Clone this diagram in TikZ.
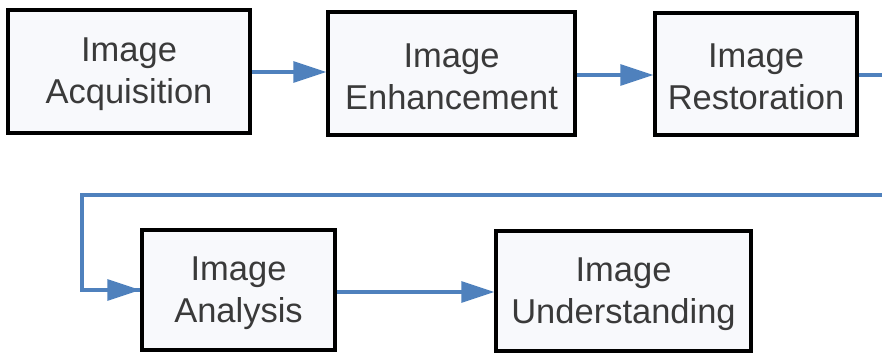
\documentclass[tikz,border=0pt]{standalone}
\usepackage{fontspec}
\setmainfont{Liberation Sans}
\usetikzlibrary{arrows.meta}
\definecolor{flowblue}{HTML}{4F81BD}
\definecolor{boxfill}{HTML}{F8F9FC}
\definecolor{txt}{HTML}{3A3A3A}
\newcommand\lowline[1]{\raisebox{-3pt}[\height][\depth]{#1}}
\tikzset{
  procbox/.style={draw=black, line width=3.5pt, fill=boxfill, inner sep=0pt,
    text=txt, align=center, font=\fontsize{34.5}{42}\selectfont},
  flow/.style={draw=flowblue, line width=3.2pt, -{Triangle[length=33pt,width=21pt]}},
}
\begin{document}
\begin{tikzpicture}[x=1pt,y=-1pt]
\useasboundingbox (0,0) rectangle (882,353);
\clip (0,0) rectangle (882,353);
\node[procbox, minimum width=242pt, minimum height=123pt] (acq) at (129,71.5) {\lowline{Image}\\\lowline{Acquisition}};
\node[procbox, minimum width=247pt, minimum height=123pt] (enh) at (451.5,73.5) {\lowline{Image}\\\lowline{Enhancement}};
\node[procbox, minimum width=202pt, minimum height=122pt] (res) at (756,74) {\lowline{Image}\\\lowline{Restoration}};
\node[procbox, minimum width=193pt, minimum height=120pt] (ana) at (238.5,290) {\lowline{Image}\\\lowline{Analysis}};
\node[procbox, minimum width=255pt, minimum height=120pt] (und) at (623.5,291) {\lowline{Image}\\\lowline{Understanding}};
\coordinate (outR) at (900,75);
\coordinate (backR) at (900,195);
\coordinate (loopL) at (82,195);
\draw[flow] (acq.east |- 0,72) -- (enh.west |- 0,72);
\draw[flow] (enh.east |- 0,75) -- (res.west |- 0,75);
\draw[flow, -] (res.east |- 0,75) -- (outR) -- (backR) -- (loopL) |- (ana.west);
\draw[flow] (loopL |- ana.west) -- (ana.west);
\draw[flow] (ana.east |- 0,292) -- (und.west |- 0,292);
\end{tikzpicture}
\end{document}
